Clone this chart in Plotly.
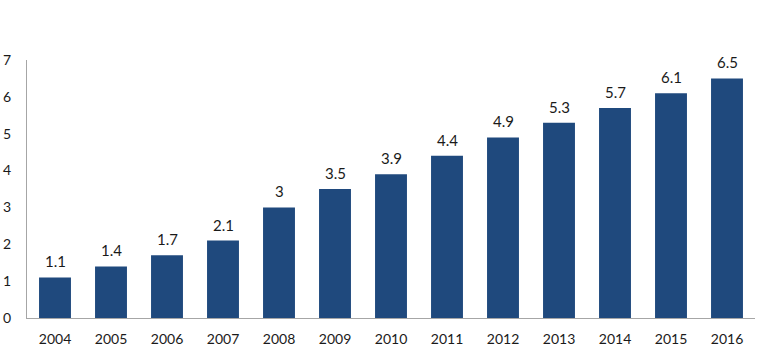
import plotly.graph_objects as go

years = ["2004", "2005", "2006", "2007", "2008", "2009", "2010", "2011", "2012", "2013", "2014", "2015", "2016"]
values = [1.1, 1.4, 1.7, 2.1, 3, 3.5, 3.9, 4.4, 4.9, 5.3, 5.7, 6.1, 6.5]
labels = ["1.1", "1.4", "1.7", "2.1", "3", "3.5", "3.9", "4.4", "4.9", "5.3", "5.7", "6.1", "6.5"]
y_ticks = [0, 1, 2, 3, 4, 5, 6, 7]

font_family = "Lato, Carlito, Calibri, sans-serif"
text_color = "#1a1a1a"

fig = go.Figure(
    go.Bar(
        x=years,
        y=values,
        marker=dict(color="#1F497D", line=dict(width=0)),
        hoverinfo="x+y",
    )
)

# category serial index used for annotation position (numeric-like names would be read as indices)
for i, (v, lab) in enumerate(zip(values, labels)):
    fig.add_annotation(
        x=i, y=v, text=lab, showarrow=False,
        xref="x", yref="y",
        yanchor="bottom", yshift=5,
        font=dict(family=font_family, size=15, color=text_color),
    )

fig.update_layout(
    width=767,
    height=354,
    margin=dict(l=27, r=12, t=60, b=36),
    paper_bgcolor="white",
    plot_bgcolor="white",
    bargap=0.43,
    showlegend=False,
    font=dict(family=font_family, size=14, color=text_color),
)
fig.update_xaxes(
    type="category",
    automargin=False,
    showline=True,
    linecolor="#A6A6A6",
    linewidth=1,
    showgrid=False,
    ticks="",
    ticklabelstandoff=8,
    tickfont=dict(family=font_family, size=14, color=text_color),
)
fig.update_yaxes(
    automargin=False,
    range=[0, 7],
    tickvals=y_ticks,
    showline=True,
    linecolor="#A6A6A6",
    linewidth=1,
    showgrid=False,
    zeroline=False,
    ticks="",
    ticklabelstandoff=12,
    tickfont=dict(family=font_family, size=14, color=text_color),
)

fig.write_html("out.html")
